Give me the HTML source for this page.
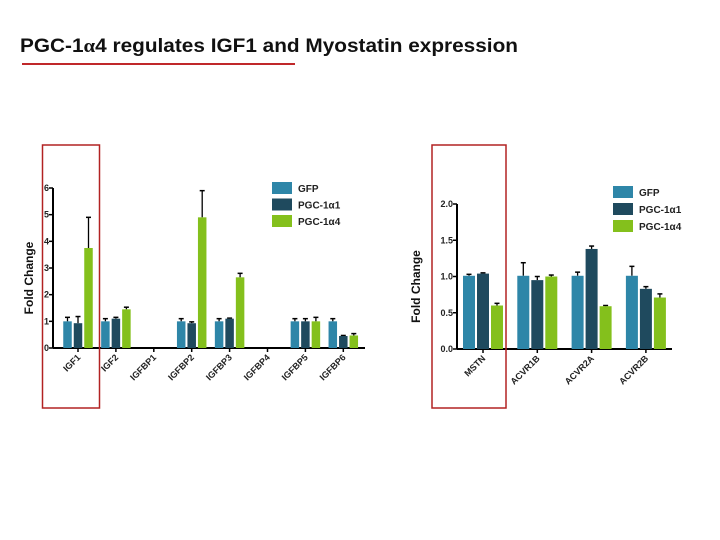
<!DOCTYPE html>
<html><head><meta charset="utf-8"><style>
body{margin:0;width:720px;height:540px;background:#fff;overflow:hidden;font-family:"Liberation Sans",sans-serif}
svg{position:absolute;left:0;top:0}
</style></head><body>
<svg width="720" height="540">
<text x="20" y="52" font-size="19" font-weight="bold" fill="#111" textLength="498" lengthAdjust="spacingAndGlyphs">PGC-1<tspan font-family="Liberation Serif">α</tspan>4 regulates IGF1 and Myostatin expression</text>
<line x1="22" y1="64" x2="295" y2="64" stroke="#c0282a" stroke-width="2"/>
<g id="c1"></g>
<g id="c2"></g>
<rect x="42.5" y="145" width="57" height="263" fill="none" stroke="#b22222" stroke-width="1.5"/>
<rect x="432" y="145" width="74" height="263" fill="none" stroke="#b22222" stroke-width="1.5"/>
</svg>
<script>
const cats1=["IGF1","IGF2","IGFBP1","IGFBP2","IGFBP3","IGFBP4","IGFBP5","IGFBP6"];
const gfp1=[1,1,null,1,1,null,1,1];
const gfp1Err=[0.15,0.1,null,0.1,0.1,null,0.1,0.1];
const a11=[0.93,1.1,null,0.93,1.1,null,1,0.45];
const a11Err=[0.25,0.05,null,0.05,0.02,null,0.1,0.02];
const a41=[3.75,1.45,null,4.9,2.65,null,1,0.47];
const a41Err=[1.15,0.08,null,1.0,0.15,null,0.15,0.07];
const ticks1=[0,1,2,3,4,5,6];
const cats2=["MSTN","ACVR1B","ACVR2A","ACVR2B"];
const gfp2=[1.01,1.01,1.01,1.01];
const gfp2Err=[0.02,0.18,0.05,0.13];
const a12=[1.04,0.95,1.38,0.83];
const a12Err=[0.01,0.05,0.04,0.03];
const a42=[0.6,1.0,0.59,0.71];
const a42Err=[0.03,0.02,0.01,0.05];
const ticks2=["0.0","0.5","1.0","1.5","2.0"];
const seriesNames=["GFP","PGC-1α1","PGC-1α4"];
const colors=["#2e86a8","#1f4a5e","#84c01c"];
const NS="http://www.w3.org/2000/svg";
function mk(p,t,a){const e=document.createElementNS(NS,t);for(const k in a)e.setAttribute(k,a[k]);p.appendChild(e);return e;}
function chart(g,o){
  const y=v=>o.y0-(v/o.ymax)*(o.y0-o.yTop);
  const x=i=>o.x0c+i*o.step;
  const ax=mk(g,'line',{x1:o.ax,y1:o.yTop,x2:o.ax,y2:o.y0,stroke:'#000','stroke-width':2});
  
  const bx=mk(g,'line',{x1:o.ax,y1:o.y0,x2:o.xEnd,y2:o.y0,stroke:'#000','stroke-width':2});
  
  o.ticks.forEach(t=>{const v=parseFloat(t);const yy=y(v);
    mk(g,'line',{x1:o.ax-4,y1:yy,x2:o.ax,y2:yy,stroke:'#000','stroke-width':1.5});
    const tx=mk(g,'text',{x:o.ax-4,y:yy+3,'font-size':9,'font-weight':'bold','text-anchor':'end',fill:'#222'});tx.textContent=t;
    });
  const yt=mk(g,'text',{x:0,y:0,'font-size':12,'font-weight':'bold',fill:'#111','text-anchor':'middle',transform:`translate(${o.ytx},${(o.y0+o.yTop)/2+10}) rotate(-90)`});
  yt.textContent='Fold Change';
  o.cats.forEach((c,i)=>{const cx=x(i);
    mk(g,'line',{x1:cx,y1:o.y0,x2:cx,y2:o.y0+4,stroke:'#000','stroke-width':1.5});
    const t=mk(g,'text',{x:0,y:0,'font-size':9,'font-weight':'bold',fill:'#222','text-anchor':'end',transform:`translate(${cx+3},${o.y0+10}) rotate(-45)`});
    t.textContent=c;
    o.series.forEach((s,k)=>{const v=s.v[i];if(v==null)return;const bxm=cx+(k-1)*o.off;
      const e=s.e[i]||0;const top=y(v+e);
      const el=mk(g,'line',{x1:bxm,y1:top,x2:bxm,y2:y(v),stroke:'#000','stroke-width':1.3});
      
      mk(g,'line',{x1:bxm-2.5,y1:top,x2:bxm+2.5,y2:top,stroke:'#000','stroke-width':1.5});
      const r=mk(g,'rect',{x:bxm-o.bw/2,y:y(v),width:o.bw,height:o.y0-y(v),fill:colors[k]});
      });
  });
  seriesNames.forEach((n,k)=>{const yy=o.legY+k*o.legStep;
    const r=mk(g,'rect',{x:o.legX,y:yy-6,width:20,height:12,fill:colors[k]});
    
    const t=mk(g,'text',{x:o.legX+26,y:yy+4,'font-size':10,'font-weight':'bold',fill:'#222'});t.textContent=n;
    });
}
chart(document.getElementById('c1'),{ax:53,xEnd:365,y0:348,yTop:188,ymax:6,x0c:78,step:37.9,off:10.5,bw:8.5,
  cats:cats1,ticks:ticks1.map(String),ytx:33,
  series:[{v:gfp1,e:gfp1Err},{v:a11,e:a11Err},{v:a41,e:a41Err}],legX:272,legY:188,legStep:16.5});
chart(document.getElementById('c2'),{ax:457,xEnd:672,y0:349,yTop:204,ymax:2,x0c:483,step:54.3,off:14,bw:12,
  cats:cats2,ticks:ticks2,ytx:420,
  series:[{v:gfp2,e:gfp2Err},{v:a12,e:a12Err},{v:a42,e:a42Err}],legX:613,legY:192,legStep:17});
</script>
</body></html>
